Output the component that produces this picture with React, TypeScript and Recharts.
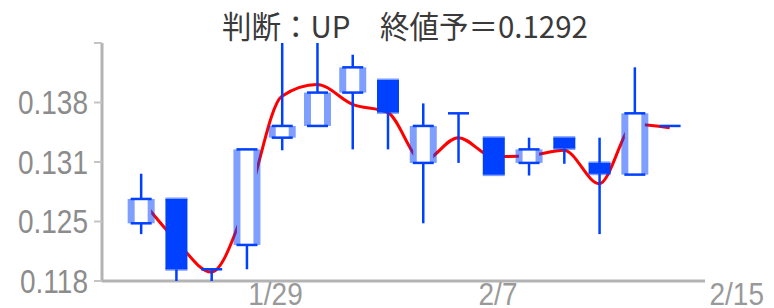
import { ComposedChart, Bar, Line, XAxis, YAxis } from 'recharts'

const days = [0, 1, 2, 3, 4, 5, 6, 7, 8, 9, 10, 11, 12, 13, 14, 15]
const openVals = [0.1244, 0.1271, 0.1193, 0.1220, 0.1339, 0.1352, 0.1389, 0.1403, 0.1311, 0.1366, 0.1339, 0.1311, 0.1339, 0.1311, 0.1298, 0.1352]
const highVals = [0.1299, 0.1271, 0.1193, 0.1326, 0.1444, 0.1444, 0.1431, 0.1403, 0.1377, 0.1366, 0.1339, 0.1339, 0.1339, 0.1339, 0.1417, 0.1352]
const lowVals = [0.1232, 0.1180, 0.1180, 0.1193, 0.1325, 0.1352, 0.1326, 0.1326, 0.1244, 0.1311, 0.1298, 0.1297, 0.1310, 0.1232, 0.1298, 0.1352]
const closeVals = [0.1271, 0.1193, 0.1193, 0.1326, 0.1352, 0.1389, 0.1417, 0.1367, 0.1352, 0.1366, 0.1298, 0.1326, 0.1327, 0.1299, 0.1366, 0.1352]
const trendVals = [0.1271, 0.1225, 0.1190, 0.1266, 0.1385, 0.1398, 0.1376, 0.1367, 0.1313, 0.1339, 0.1318, 0.1319, 0.1325, 0.1288, 0.1354, 0.1350]

const yTicks = [0.118, 0.1246, 0.1312, 0.1378, 0.1444]
const yTickLabels = ['0.118', '0.125', '0.131', '0.138', '']
const xTicks = [3.82, 10.13, 16.9]
const xTickLabels = ['1/29', '2/7', '2/15']
const title = '判断：UP　終値予＝0.1292'

const data = days.map((d, i) => ({
  day: d,
  open: openVals[i],
  high: highVals[i],
  low: lowVals[i],
  close: closeVals[i],
  range: [lowVals[i], highVals[i]],
  trend: trendVals[i],
}))

const BLUE = '#0040ff'
const HALF = 'rgba(0, 64, 255, 0.5)'
const AXIS = '#b3b3b3'
const FONT = '"Liberation Sans", Arial, sans-serif'

function Candle(props: any) {
  const { x, y, width, height, payload } = props
  if (x == null || y == null) return null
  const cx = x + width / 2
  const { open: o, close: c, high: h, low: l } = payload
  const span = h - l
  const toY = (v: number) => (span === 0 ? y : y + ((h - v) / span) * height)
  const yo = toY(o)
  const yc = toY(c)
  const top = Math.min(yo, yc)
  const bot = Math.max(yo, yc)
  const yh = toY(h)
  const yl = toY(l)
  const wick = (
    <>
      {yh < top && <line x1={cx} x2={cx} y1={yh} y2={top} stroke={BLUE} strokeWidth={2.5} />}
      {yl > bot && <line x1={cx} x2={cx} y1={bot} y2={yl} stroke={BLUE} strokeWidth={2.5} />}
    </>
  )
  if (bot - top < 1) {
    return (
      <g>
        {wick}
        <line x1={cx - 10.5} x2={cx + 10.5} y1={yo} y2={yo} stroke={BLUE} strokeWidth={2.5} />
      </g>
    )
  }
  if (c > o) {
    // hollow (up)
    return (
      <g>
        {wick}
        <rect x={cx - 10} y={top} width={20} height={bot - top} fill="#fff" />
        <rect x={cx - 13.5} y={top} width={7} height={bot - top} fill={HALF} />
        <rect x={cx + 6.5} y={top} width={7} height={bot - top} fill={HALF} />
        <line x1={cx - 10.5} x2={cx + 10.5} y1={top} y2={top} stroke={BLUE} strokeWidth={2.5} />
        <line x1={cx - 10.5} x2={cx + 10.5} y1={bot} y2={bot} stroke={BLUE} strokeWidth={2.5} />
      </g>
    )
  }
  return (
    <g>
      {wick}
      <rect x={cx - 11} y={top} width={22} height={bot - top} fill={BLUE} />
      <rect x={cx - 11} y={top - 1.5} width={22} height={3} fill={HALF} />
      <rect x={cx - 11} y={bot - 1.5} width={22} height={3} fill={HALF} />
    </g>
  )
}

function YTick(props: any) {
  const { y, index } = props
  const tx = 88
  return (
    <text
      x={tx}
      y={y}
      dy="0.36em"
      textAnchor="end"
      fontSize={28}
      fontFamily={FONT}
      fill="#8c8c8c"
      transform={`translate(0 ${y}) scale(1 1.16) translate(0 ${-y})`}
    >
      {yTickLabels[index]}
    </text>
  )
}

function XTick(props: any) {
  const { x, y, index } = props
  const by = y + 24
  return (
    <text
      x={x}
      y={by}
      textAnchor="middle"
      fontSize={28}
      fontFamily={FONT}
      fill="#999"
      transform={`translate(0 ${by}) scale(1 1.12) translate(0 ${-by})`}
    >
      {xTickLabels[index]}
    </text>
  )
}

export default function App() {
  return (
    <div style={{ position: 'absolute', left: 0, top: 0, width: 774, height: 308, background: '#fff' }}>
      <ComposedChart width={774} height={308} data={data} margin={{ top: 43, right: 69, left: 0, bottom: 0 }}>
        <XAxis
          dataKey="day"
          type="number"
          domain={[-1.1, 16]}
          ticks={xTicks}
          interval={0}
          height={27}
          tickSize={0}
          tickMargin={0}
          tickLine={false}
          axisLine={{ stroke: AXIS, strokeWidth: 3 }}
          tick={<XTick />}
          allowDataOverflow
        />
        <YAxis
          type="number"
          domain={[0.118, 0.1444]}
          ticks={yTicks}
          interval={0}
          width={102}
          tickSize={8}
          axisLine={{ stroke: AXIS, strokeWidth: 3 }}
          tickLine={{ stroke: '#c4c4c4', strokeWidth: 2 }}
          tick={<YTick />}
          allowDataOverflow
        />
        <Line dataKey="trend" type="monotone" stroke="#ff0000" strokeWidth={3} dot={false} activeDot={false} isAnimationActive={false} zIndex={100} />
        <Bar dataKey="range" barSize={22} shape={<Candle />} isAnimationActive={false} zIndex={600} />
      </ComposedChart>
      <svg width={774} height={50} style={{ position: 'absolute', left: 0, top: 0, pointerEvents: 'none' }}>
        <text
          x={405}
          y={38}
          textAnchor="middle"
          fontSize={27}
          fontFamily='"Noto Sans CJK JP", sans-serif'
          fill="#3a3a3a"
          textLength={366}
          lengthAdjust="spacingAndGlyphs"
          transform="translate(0 38) scale(1 1.12) translate(0 -38)"
        >
          {title}
        </text>
      </svg>
    </div>
  )
}
